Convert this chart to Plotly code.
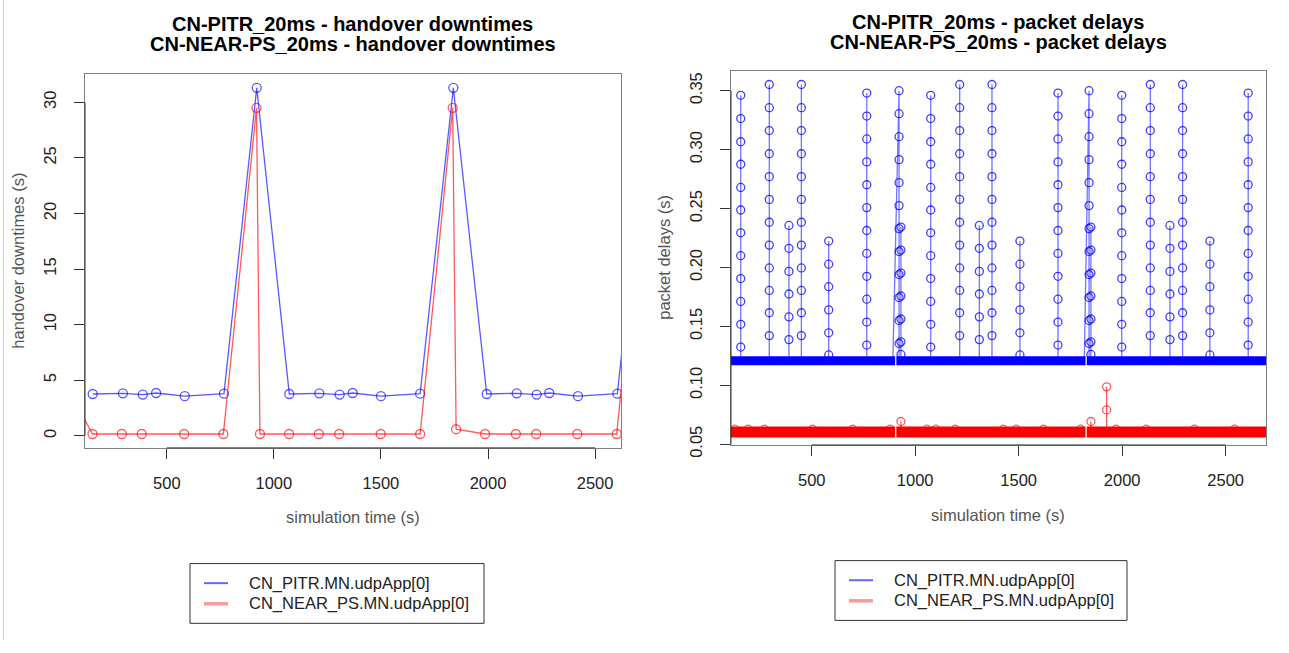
import plotly.graph_objects as go

FONT = "Liberation Sans, Arial, Helvetica, sans-serif"
W, H = 1289, 653

# ---------------- Left panel: handover downtimes ----------------
ho_pitr_t = [154, 295, 388, 450, 584, 767, 920, 1072, 1212, 1307, 1368, 1500, 1683,
             1838, 1994, 2134, 2227, 2286, 2420, 2604, 2758]
ho_pitr_v = [3.76, 3.82, 3.71, 3.85, 3.56, 3.79, 31.3, 3.76, 3.82, 3.71, 3.85, 3.56, 3.79,
             31.3, 3.76, 3.82, 3.71, 3.85, 3.56, 3.79, 31.3]
ho_near_t = [60, 153, 290, 383, 581, 764, 919, 935, 1071, 1210, 1305, 1499, 1683,
             1835, 1851, 1986, 2130, 2225, 2417, 2601, 2753]
ho_near_v = [3.5, 0.16, 0.16, 0.16, 0.16, 0.16, 29.5, 0.16, 0.16, 0.16, 0.16, 0.16, 0.16,
             29.5, 0.59, 0.16, 0.16, 0.16, 0.16, 0.16, 29.5]

# ---------------- Right panel: packet delays ----------------
pd_pitr_base = 0.1208
pd_near_base = 0.0605
pd_base_seg_start = [100, 909, 1829]
pd_base_seg_end = [903, 1823, 2710]

prof_a = [0.3461, 0.3264, 0.3067, 0.2876, 0.2679, 0.2488, 0.2294, 0.2100, 0.1906, 0.1712, 0.1518, 0.1325]
prof_b = [0.3553, 0.3356, 0.3162, 0.2965, 0.2771, 0.2578, 0.2384, 0.2190, 0.1996, 0.1805, 0.1616, 0.1422]
prof_c = [0.2357, 0.2163, 0.1967, 0.1775, 0.1581, 0.1388]
prof_d = [0.2224, 0.2028, 0.1837, 0.1640, 0.1446, 0.1258]
prof_e = [0.3480, 0.3285, 0.3091, 0.2896, 0.2702, 0.2508, 0.2314, 0.2119, 0.1925, 0.1731, 0.1537, 0.1342]
prof_f = [0.3500, 0.3305, 0.3110, 0.2915, 0.2720, 0.2525, 0.2330, 0.2135, 0.1940, 0.1745, 0.1550, 0.1355]
prof_g = [0.2343, 0.2148, 0.1953, 0.1758, 0.1563, 0.1369, 0.1262]

pd_pitr_spike_t = [157, 295, 390, 450, 582, 766, 922, 931, 1075, 1215, 1310, 1371, 1506,
                   1690, 1840, 1849, 1998, 2136, 2231, 2292, 2424, 2609]
pd_pitr_spike_from = [157, 295, 390, 450, 582, 766, 892, 931, 1075, 1215, 1310, 1371, 1506,
                      1690, 1817, 1849, 1998, 2136, 2231, 2292, 2424, 2609]
pd_pitr_spike_v = [prof_a, prof_b, prof_c, prof_b, prof_d, prof_e, prof_f, prof_g, prof_a, prof_b,
                   prof_c, prof_b, prof_d, prof_e, prof_f, prof_g, prof_a, prof_b, prof_c, prof_b,
                   prof_d, prof_e]

pd_near_spike_t = [931, 1849, 1925]
pd_near_spike_v = [[0.0693], [0.0693], [0.0987, 0.0791]]
pd_near_bump_t = [129, 193, 271, 504, 698, 879, 1057, 1100, 1193, 1426, 1488, 1620, 1799,
                  1970, 2116, 2349, 2543]
pd_near_bump_v = [0.0628] * len(pd_near_bump_t)

x_ticks = [500, 1000, 1500, 2000, 2500]
ho_y_ticks = [0, 5, 10, 15, 20, 25, 30]
pd_y_ticks = [0.05, 0.10, 0.15, 0.20, 0.25, 0.30, 0.35]
pd_y_ticktext = ["0.05", "0.10", "0.15", "0.20", "0.25", "0.30", "0.35"]

names = ["CN_PITR.MN.udpApp[0]", "CN_NEAR_PS.MN.udpApp[0]"]
BLUE_A = "rgba(0,0,255,0.65)"
RED_A = "rgba(255,0,0,0.65)"
TXT = 16.5

fig = go.Figure()

# left panel traces
fig.add_trace(go.Scatter(x=ho_pitr_t, y=ho_pitr_v, mode="lines+markers", name=names[0],
                         line=dict(color=BLUE_A, width=1.3),
                         marker=dict(symbol="circle-open", size=9, color=BLUE_A, line=dict(width=1.3)),
                         xaxis="x", yaxis="y"))
fig.add_trace(go.Scatter(x=ho_near_t, y=ho_near_v, mode="lines+markers", name=names[1],
                         line=dict(color=RED_A, width=1.3),
                         marker=dict(symbol="circle-open", size=9, color=RED_A, line=dict(width=1.3)),
                         xaxis="x", yaxis="y"))

# right panel: blue baseline band
bx, by = [], []
for s, e in zip(pd_base_seg_start, pd_base_seg_end):
    bx += [s, e, None]
    by += [pd_pitr_base, pd_pitr_base, None]
fig.add_trace(go.Scatter(x=bx, y=by, mode="lines", name=names[0],
                         line=dict(color="#0000ff", width=9), xaxis="x2", yaxis="y2"))

# blue spikes
sx, sy = [], []
mx, my = [], []
for t, f, vals in zip(pd_pitr_spike_t, pd_pitr_spike_from, pd_pitr_spike_v):
    sx += [f] + [t] * len(vals) + [t, None]
    sy += [pd_pitr_base] + vals + [pd_pitr_base, None]
    mx += [t] * len(vals)
    my += vals
fig.add_trace(go.Scatter(x=sx, y=sy, mode="lines", name=names[0],
                         line=dict(color="rgba(0,0,255,0.55)", width=1.3), xaxis="x2", yaxis="y2"))
fig.add_trace(go.Scatter(x=mx, y=my, mode="markers", name=names[0],
                         marker=dict(symbol="circle-open", size=8, color="rgba(0,0,255,0.75)",
                                     line=dict(width=1.3)),
                         xaxis="x2", yaxis="y2"))

# red baseline band
rx, ry = [], []
for s, e in zip(pd_base_seg_start, pd_base_seg_end):
    rx += [s, e, None]
    ry += [pd_near_base, pd_near_base, None]
fig.add_trace(go.Scatter(x=rx, y=ry, mode="lines", name=names[1],
                         line=dict(color="#ff0000", width=11), xaxis="x2", yaxis="y2"))
fig.add_trace(go.Scatter(x=pd_near_bump_t, y=pd_near_bump_v, mode="markers", name=names[1],
                         marker=dict(symbol="circle-open", size=8, color="rgba(255,0,0,0.6)",
                                     line=dict(width=1.2)),
                         xaxis="x2", yaxis="y2"))
# red spikes
qx, qy, qmx, qmy = [], [], [], []
for t, vals in zip(pd_near_spike_t, pd_near_spike_v):
    qx += [t] + [t] * len(vals) + [t, None]
    qy += [pd_near_base] + vals + [pd_near_base, None]
    qmx += [t] * len(vals)
    qmy += vals
fig.add_trace(go.Scatter(x=qx, y=qy, mode="lines", name=names[1],
                         line=dict(color=RED_A, width=1.3), xaxis="x2", yaxis="y2"))
fig.add_trace(go.Scatter(x=qmx, y=qmy, mode="markers", name=names[1],
                         marker=dict(symbol="circle-open", size=8, color=RED_A, line=dict(width=1.3)),
                         xaxis="x2", yaxis="y2"))

axis_common = dict(showgrid=False, zeroline=False, showline=True, linecolor="#808080",
                   linewidth=1, mirror=True, ticks="outside", ticklen=10, tickcolor="#333",
                   tickwidth=1, tickfont=dict(size=TXT, color="#222", family=FONT))

fig.update_layout(
    width=W, height=H, margin=dict(l=0, r=0, t=0, b=0),
    paper_bgcolor="white", plot_bgcolor="white", showlegend=False,
    xaxis=dict(domain=[85 / W, 621 / W], range=[118, 2621], tickvals=x_ticks, anchor="y",
               ticklabelstandoff=10, **axis_common),
    yaxis=dict(domain=[1 - 457 / H, 1 - 75 / H], range=[-1.09, 32.59], tickvals=ho_y_ticks,
               tickangle=-90, anchor="x", ticklabelstandoff=11, **axis_common),
    xaxis2=dict(domain=[731 / W, 1266 / W], range=[110, 2695], tickvals=x_ticks, anchor="y2",
                ticklabelstandoff=10, **axis_common),
    yaxis2=dict(domain=[1 - 454 / H, 1 - 72 / H], range=[0.0494, 0.3671], tickvals=pd_y_ticks,
                ticktext=pd_y_ticktext, tickangle=-90, anchor="x2", ticklabelstandoff=11,
                **axis_common),
)

ann = []
def add_text(text, x, y, size=TXT, color="#222", angle=0, bold=False, xanchor="center"):
    t = f"<b>{text}</b>" if bold else text
    ann.append(dict(text=t, x=x / W, y=1 - y / H, xref="paper", yref="paper", showarrow=False,
                    xanchor=xanchor, yanchor="middle", textangle=angle,
                    font=dict(size=size, color=color, family=FONT)))

add_text("CN-PITR_20ms - handover downtimes", 353, 24, size=20, color="#000", bold=True)
add_text("CN-NEAR-PS_20ms - handover downtimes", 353, 45, size=20, color="#000", bold=True)
add_text("CN-PITR_20ms - packet delays", 998, 22, size=20, color="#000", bold=True)
add_text("CN-NEAR-PS_20ms - packet delays", 998, 43, size=20, color="#000", bold=True)
add_text("simulation time (s)", 353, 528, color="#555")
add_text("simulation time (s)", 998, 525, color="#555")
add_text("handover downtimes (s)", 18, 266, color="#555", angle=-90)
add_text("packet delays (s)", 664, 263, color="#555", angle=-90)

# legends (R-style boxed legend below each panel)
legend_boxes = [(190, 575, 484, 636), (835, 572, 1127, 633)]
legend_colors = [("rgba(0,0,255,0.6)", 2), ("rgba(255,0,0,0.4)", 3.5)]
shapes = []
for (x0, y0, x1, y1) in legend_boxes:
    shapes.append(dict(type="rect", xref="paper", yref="paper", x0=x0 / W, x1=x1 / W,
                       y0=1 - y1 / H, y1=1 - y0 / H, line=dict(color="#333", width=1),
                       fillcolor="white", layer="above"))
    for i, nm in enumerate(names):
        ry_ = y0 + 20 + i * 21
        col, wd = legend_colors[i]
        shapes.append(dict(type="line", xref="paper", yref="paper", x0=(x0 + 14) / W,
                           x1=(x0 + 38) / W, y0=1 - ry_ / H, y1=1 - ry_ / H,
                           line=dict(color=col, width=wd), layer="above"))
        add_text(nm, x0 + 57, ry_, xanchor="left")

fig.update_layout(annotations=ann)

# darker axis segments spanning first to last tick (R style)
shapes += [
    dict(type="line", xref="x", yref="y domain", x0=x_ticks[0], x1=x_ticks[-1], y0=0, y1=0,
         line=dict(color="#333", width=1)),
    dict(type="line", xref="x domain", yref="y", x0=0, x1=0, y0=ho_y_ticks[0], y1=ho_y_ticks[-1],
         line=dict(color="#333", width=1)),
    dict(type="line", xref="x2", yref="y2 domain", x0=x_ticks[0], x1=x_ticks[-1], y0=0, y1=0,
         line=dict(color="#333", width=1)),
    dict(type="line", xref="x2 domain", yref="y2", x0=0, x1=0, y0=pd_y_ticks[0], y1=pd_y_ticks[-1],
         line=dict(color="#333", width=1)),
    dict(type="line", xref="paper", yref="paper", x0=3.5 / W, x1=3.5 / W, y0=0, y1=1,
         line=dict(color="#cccccc", width=1)),
]
fig.update_layout(shapes=shapes)

fig.write_html("out.html")
